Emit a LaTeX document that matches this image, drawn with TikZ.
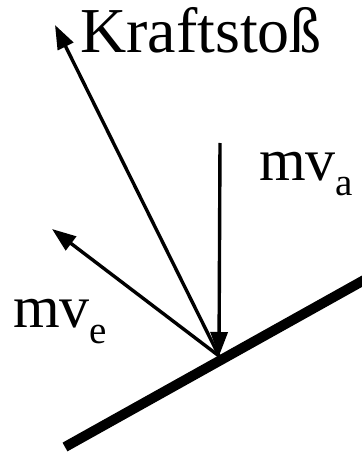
\documentclass[tikz,border=0pt]{standalone}
\usepackage{fontspec}
\setmainfont{Liberation Serif}
\usetikzlibrary{arrows.meta}
\tikzset{
  vec/.style={line width=3.4pt, -{Triangle[length=24pt,width=17pt]}},
  wall/.style={line width=10pt},
  lbl/.style={anchor=base west, inner sep=0pt, font=\fontsize{60}{60}\selectfont},
}
\newcommand{\subtxt}[1]{\raisebox{-16pt}{\fontsize{39}{39}\selectfont #1}}
\begin{document}
\begin{tikzpicture}[x=1pt,y=-1pt]
\useasboundingbox (0,0) rectangle (361,454);
\coordinate (P) at (219,356);
\coordinate (W1) at (65,447);
\coordinate (W2) at (366,279);
\coordinate (A) at (220,143);
\coordinate (K) at (55,25);
\coordinate (E) at (52,229);
\draw[wall] (W1) -- (W2);
\draw[vec] (A) -- (P);
\draw[vec] (P) -- (K);
\draw[vec] (P) -- (E);
\node[lbl, font=\fontsize{64}{64}\selectfont] (kt) at (80,53) {Kraftstoß};
\node[lbl] (ma) at (259,180) {mv\subtxt{a}};
\node[lbl] (me) at (13,327) {mv\subtxt{e}};
\end{tikzpicture}
\end{document}
